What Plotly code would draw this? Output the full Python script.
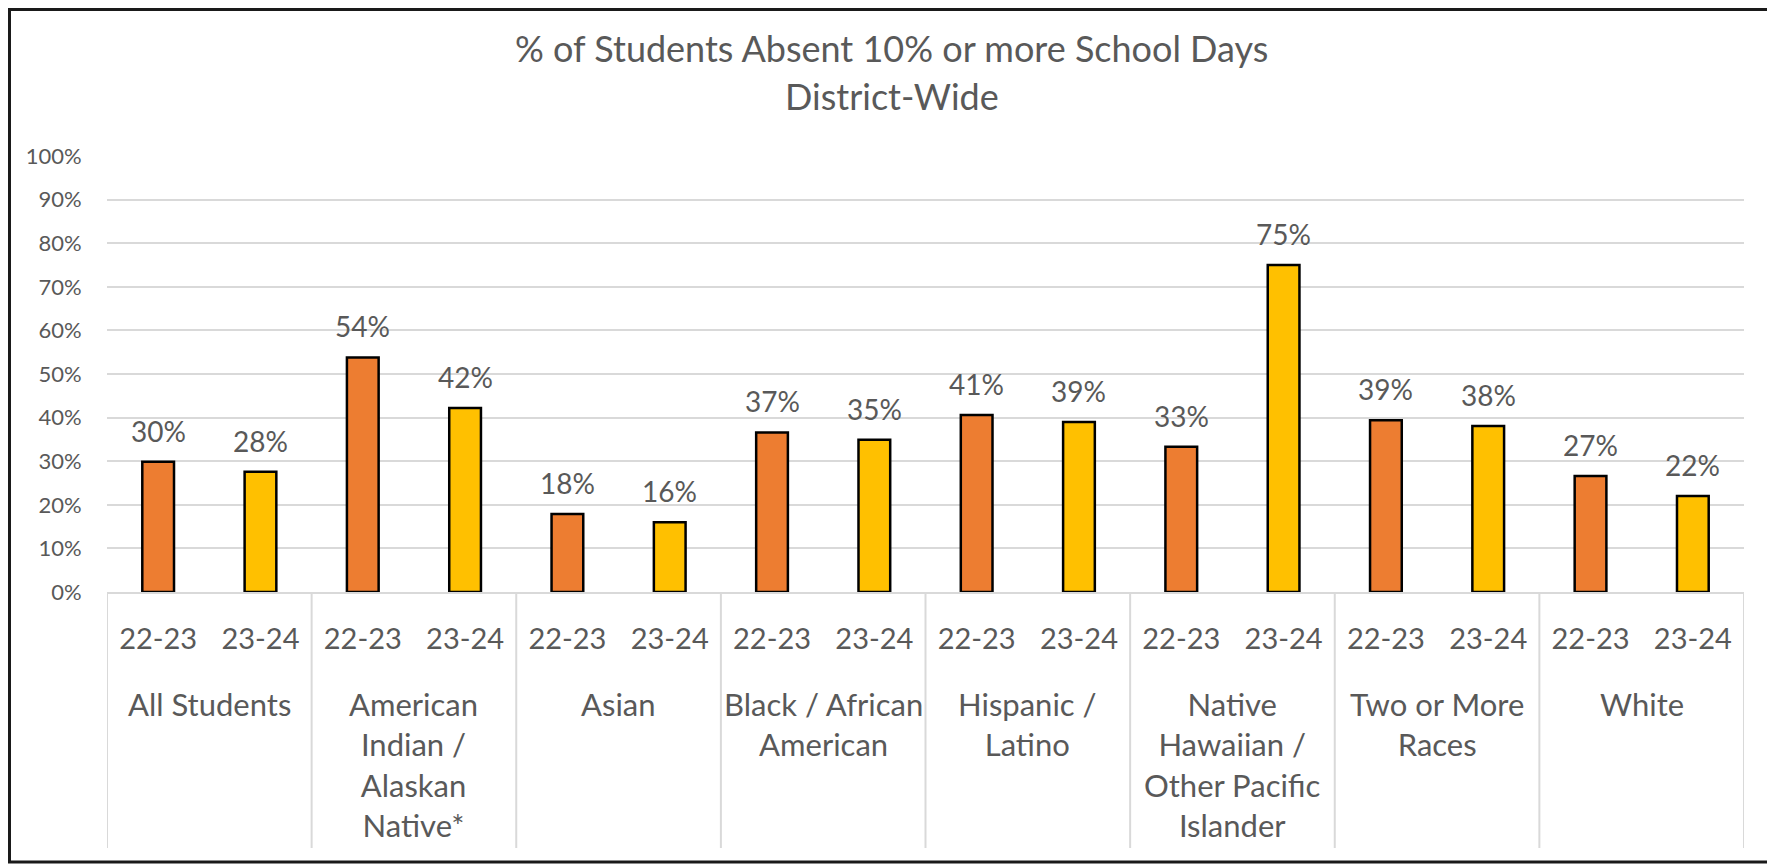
import plotly.graph_objects as go

groups = ["All Students", "American<br>Indian /<br>Alaskan<br>Native*", "Asian",
          "Black / African<br>American", "Hispanic /<br>Latino",
          "Native<br>Hawaiian /<br>Other Pacific<br>Islander", "Two or More<br>Races", "White"]
years = ["22-23", "23-24"]
vals_2223 = [0.299, 0.538, 0.179, 0.366, 0.406, 0.333, 0.394, 0.266]
vals_2324 = [0.276, 0.422, 0.160, 0.349, 0.390, 0.750, 0.381, 0.220]
colors = ["#ED7D31", "#FFC000"]
title_lines = ["% of Students Absent 10% or more School Days", "District-Wide"]

FONT = "Lato"
GRAY = "#595959"
GRID = "#D9D9D9"
W, H = 1767, 856
ML, MR, MT, MB = 99, 31, 148, 272
PW = W - ML - MR
PH = H - MT - MB
Y0 = H - MB  # pixel row of the x axis


def py(pix):
    """figure pixel row -> paper y"""
    return (Y0 - pix) / PH


def px(pix):
    return (pix - ML) / PW


cats = [f"{g}|{yr}" for g in groups for yr in years]

fig = go.Figure()
for k, (yr, vals, col) in enumerate(zip(years, [vals_2223, vals_2324], colors)):
    xs = [f"{g}|{yr}" for g in groups]
    fig.add_trace(go.Bar(
        x=xs, y=vals, name=yr,
        marker=dict(color=col, line=dict(color="black", width=2.5)),
        width=0.31,
    ))
    for xv, v in zip(xs, vals):
        fig.add_annotation(x=xv, y=v, xref="x", yref="y", text=f"{v*100:.0f}%",
                           showarrow=False, yanchor="middle", yshift=31,
                           font=dict(family=FONT, size=28, color=GRAY))

# group labels and dividers
for i, g in enumerate(groups):
    fig.add_annotation(x=2 * i + 0.5, y=py(675), xref="x", yref="paper", text=g,
                       showarrow=False, yanchor="top", align="center",
                       font=dict(family=FONT, size=31, color=GRAY))
for i in range(len(groups) + 1):
    fig.add_shape(type="line", xref="x", yref="paper", x0=2 * i - 0.5, x1=2 * i - 0.5,
                  y0=0, y1=py(840), line=dict(color=GRID, width=2), layer="below")

# title (two lines, centred on chart area)
for t, row in zip(title_lines, [40.5, 88]):
    fig.add_annotation(x=px(883.5), y=py(row), xref="paper", yref="paper", text=t,
                       showarrow=False, xanchor="center", yanchor="middle",
                       font=dict(family=FONT, size=36, color=GRAY))

fig.update_layout(
    width=W, height=H, barmode="overlay", showlegend=False,
    paper_bgcolor="white", plot_bgcolor="white",
    margin=dict(l=ML, r=MR, t=MT, b=MB, autoexpand=False),
    font=dict(family=FONT, color=GRAY),
    xaxis=dict(type="category", categoryorder="array", categoryarray=cats,
               tickvals=cats, ticktext=[c.split("|")[1] for c in cats],
               range=[-0.5, len(cats) - 0.5],
               showline=True, linecolor=GRID, linewidth=2, showgrid=False,
               ticks="outside", ticklen=20, tickcolor="rgba(0,0,0,0)",
               tickfont=dict(family=FONT, size=29, color=GRAY)),
    yaxis=dict(range=[0, 1], dtick=0.1, tickformat=".0%", showgrid=True,
               gridcolor=GRID, gridwidth=2, zeroline=False,
               ticks="outside", ticklen=20, tickcolor="rgba(0,0,0,0)",
               tickfont=dict(family=FONT, size=22, color=GRAY)),
)

fig.add_shape(type="rect", xref="paper", yref="paper",
              x0=px(1.5), x1=px(1764.5), y0=py(854), y1=py(1.5),
              line=dict(color="#1a1a1a", width=3), fillcolor="rgba(0,0,0,0)", layer="above")

fig.write_html("out.html")
